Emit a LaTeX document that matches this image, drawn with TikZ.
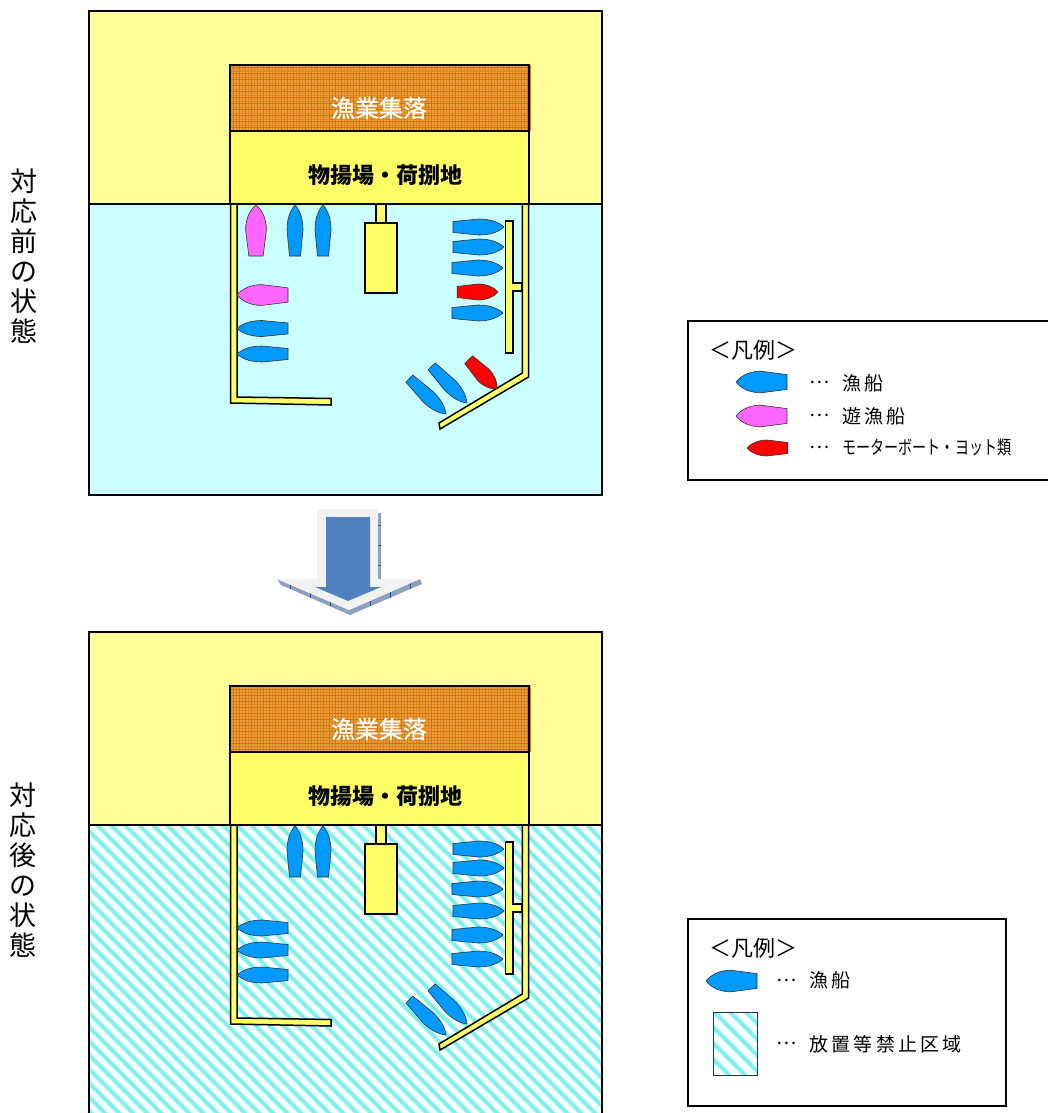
\documentclass[tikz,border=0pt]{standalone}
\usepackage{fontspec}
\setmainfont{Noto Sans CJK JP}
\newfontfamily\legendfont[LetterSpace=17]{Noto Sans CJK JP}
\newfontfamily\villagefont[FakeBold=.6]{Noto Sans CJK JP}
\definecolor{land}{HTML}{FFFF99}
\definecolor{yard}{HTML}{FFFF66}
\definecolor{water}{HTML}{CCFFFF}
\definecolor{ship}{HTML}{0099FF}
\definecolor{leisure}{HTML}{FF66FF}
\definecolor{motor}{HTML}{FF0000}
\definecolor{brick}{HTML}{E8A03C}
\definecolor{brickline}{HTML}{D5720C}
\definecolor{stripe}{HTML}{7FEFE8}
\definecolor{stripesoft}{HTML}{C4F7F7}
\definecolor{banned}{HTML}{F8FFFF}
\definecolor{arrowblue}{HTML}{4F81BD}
\definecolor{arrowlight}{HTML}{F2F2F2}
\definecolor{arrowshade}{HTML}{8DA0BE}
\definecolor{arrowtick}{HTML}{3A4F78}

\begin{document}
\begin{tikzpicture}[x=1pt,y=-1pt,
    outline/.style={draw=black,line width=1.5pt},
    pier/.style={outline,fill=yard,line join=miter},
    legend box/.style={draw=black,line width=1.5pt,fill=white},
    main label/.style={font=\fontsize{27}{30}\selectfont,align=center},
    legend title/.style={font=\fontsize{22}{22}\selectfont},
    legend text/.style={font=\legendfont\fontsize{19}{19}\selectfont,anchor=west},
    pics/boat/.style={code={
      \draw[fill=#1,draw=black!80,line width=.6pt] (0,0) .. controls (6,-5.5) and (15,-8) .. (25,-8)
        -- (51,-5.5) -- (51,5.5) -- (25,8) .. controls (15,8) and (6,5.5) .. (0,0) -- cycle;
    }},
    pics/harbor/.style={code={
      \draw[outline,fill=land] (89,11) rectangle (602,204);
      \fill[brick] (230,65) rectangle (529,131);
      \foreach \i in {233,239,...,527} {
        \draw[brickline,line width=1pt] (\i,65) -- (\i,131);
        \draw[brickline!60!brick,line width=.5pt] (\i+3,65) -- (\i+3,131);
      }
      \foreach \j in {68,74,...,130} {
        \draw[brickline,line width=1pt] (230,\j) -- (529,\j);
        \draw[brickline!60!brick,line width=.5pt] (230,\j+3) -- (529,\j+3);
      }
      \draw[outline] (230,65) rectangle (529,131);
      \draw[outline,fill=yard] (230,131) rectangle (529,204);
      \node[white,font=\villagefont\fontsize{24}{24}\selectfont] (-village) at (379,108) {漁業集落};
      \node[font=\bfseries\fontsize{22}{22}\selectfont] (-yard) at (385,175) {物揚場・荷捌地};
      \draw[pier] (230.7,204) -- (237,204) -- (237,397) -- (331,398.5) -- (331,405) -- (230.7,403) -- cycle;
      \draw[pier] (522.3,204) -- (528.5,204) -- (528.5,377) -- (440,429) -- (439,423) -- (522.3,373) -- cycle;
      \draw[pier] (505.5,221) -- (513,221) -- (513,283) -- (522,283) -- (522,291) -- (513,291) -- (513,353) -- (505.5,353) -- cycle;
      \draw[pier] (376,204) rectangle (386,223);
      \draw[pier] (365,223) rectangle (397,293);
    }}]

\clip (0,0) rectangle (1048,1113);

% before
\draw[outline,fill=water] (89,11) rectangle (602,495);
\pic (before) at (0,0) {harbor};
\node[main label] (beforelabel) at (24,256) {対\\応\\前\\の\\状\\態};

\pic[rotate=-90,yscale=1.3] at (256,205) {boat=leisure};
\foreach \x in {295,323} \pic[rotate=-90] at (\x,205) {boat=ship};
\pic[yscale=1.3] at (237,295) {boat=leisure};
\foreach \y in {328.5,354} \pic at (237,\y) {boat=ship};
\pic[rotate=180] at (504,227) {boat=ship};
\pic[rotate=180] at (504,247) {boat=ship};
\pic[rotate=180] at (503,268) {boat=ship};
\pic[rotate=180,xscale=.8] at (498,292) {boat=motor};
\pic[rotate=180] at (503,313) {boat=ship};
\pic[rotate=136,yscale=.9] at (446,414) {boat=ship};
\pic[rotate=134,yscale=.9] at (467,403) {boat=ship};
\pic[rotate=134,xscale=.8] at (497,389) {boat=motor};

% arrow
\fill[arrowshade] (378,513) rectangle (381,580);
\foreach \j in {525,545,565} \draw[arrowtick,line width=.5pt] (378,\j) -- (381,\j);
\fill[arrowshade] (277,579) -- (281,585) -- (350,615) -- (422,584) -- (420,579) -- (349,610) -- cycle;
\foreach \i/\a/\b in {290/584.6/589,310/593.2/597.7,330/601.8/606.4,370/600.8/606.4,390/592/597.8,410/583.4/589.2}
  \draw[arrowtick,line width=.5pt] (\i,\a) -- (\i,\b);
\fill[arrowlight] (317,509) -- (378,509) -- (378,579) -- (420,579) -- (349,610) -- (277,579) -- (317,579) -- cycle;
\fill[arrowblue] (326,517) -- (370,517) -- (370,587) -- (381,587) -- (348,601) -- (315,587) -- (326,587) -- cycle;

% after
\fill[banned] (89,825) rectangle (602,1125);
\begin{scope}
\clip (89,825) rectangle (602,1125);
\foreach \k in {-211,-197,...,602} {
  \draw[stripesoft,line width=5.5pt] (\k,825) -- (\k+300,1125);
  \draw[stripe,line width=3pt] (\k,825) -- (\k+300,1125);
}
\end{scope}
\draw[outline] (89,825) rectangle (602,1125);
\pic (after) at (0,621) {harbor};
\node[main label] (afterlabel) at (23,870) {対\\応\\後\\の\\状\\態};

\foreach \x in {295,323} \pic[rotate=-90] at (\x,826) {boat=ship};
\foreach \y in {928,950,975} \pic at (237,\y) {boat=ship};
\foreach \x/\y in {504/849,504/868,503/889,504/911,503/935,503/959} \pic[rotate=180] at (\x,\y) {boat=ship};
\pic[rotate=136,yscale=.9] at (446,1035) {boat=ship};
\pic[rotate=134,yscale=.9] at (467,1024) {boat=ship};

% legends
\draw[legend box] (688,321) rectangle (1060,480);
\node[legend title] (title1) at (753,350) {＜凡例＞};
\pic[yscale=1.35] at (736,382) {boat=ship};
\pic[yscale=1.35] at (736,416) {boat=leisure};
\pic[xscale=.8] at (747,448) {boat=motor};
\node[legend text] (dots1) at (806,382) {…};
\node[legend text] (dots2) at (806,415) {…};
\node[legend text] (dots3) at (806,447) {…};
\node[legend text] (fishing1) at (839,383) {漁船};
\node[legend text] (leisure1) at (839,416) {遊漁船};
\node[legend text,font=\fontsize{19}{19}\selectfont] (motor1) at (839,447) {\scalebox{.74}[1]{モーターボート・ヨット類}};

\draw[legend box] (688,919) rectangle (1006,1106);
\node[legend title] (title2) at (753,948) {＜凡例＞};
\pic[yscale=1.35] at (706,981) {boat=ship};
\node[legend text] (dots4) at (773,980) {…};
\node[legend text] (fishing2) at (806,980) {漁船};
\fill[banned] (713,1012) rectangle (757,1075);
\begin{scope}
\clip (713,1012) rectangle (757,1075);
\foreach \k in {650,666,...,760} {
  \draw[stripesoft,line width=5.5pt] (\k,1012) -- (\k+63,1075);
  \draw[stripe,line width=3pt] (\k,1012) -- (\k+63,1075);
}
\end{scope}
\draw[black!80,line width=1pt] (713,1012) rectangle (757,1075);
\node[legend text] (dots5) at (773,1043) {…};
\node[legend text] (banned1) at (806,1044) {放置等禁止区域};

\end{tikzpicture}
\end{document}
